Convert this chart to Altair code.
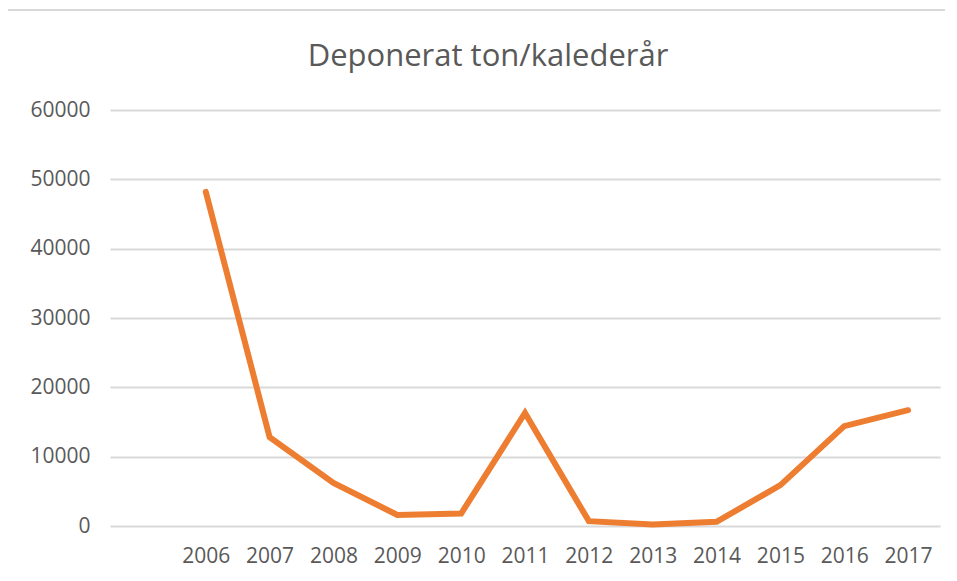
import altair as alt
import pandas as pd

years = [2006, 2007, 2008, 2009, 2010, 2011, 2012, 2013, 2014, 2015, 2016, 2017]
tons = [48200, 12800, 6200, 1600, 1800, 16300, 700, 200, 600, 5900, 14400, 16700]
y_ticks = [0, 10000, 20000, 30000, 40000, 50000, 60000]
title_text = "Deponerat ton/kalederår"

df = pd.DataFrame({"year": years, "ton": tons})

TEXT = "#595959"
GRID = "#D9D9D9"
FONT = "Open Sans"

line = alt.Chart(df).mark_line(color="#ED7D31", strokeWidth=6, strokeJoin="miter", strokeCap="round").encode(
    x=alt.X("year:Q",
            scale=alt.Scale(domain=[years[0] - 1.5, years[-1] + 0.5], zero=False, nice=False),
            axis=alt.Axis(values=years, format="d", title=None, grid=False, domain=False, ticks=False,
                          labelFontSize=21, labelColor=TEXT, labelFont=FONT, labelPadding=19)),
    y=alt.Y("ton:Q",
            scale=alt.Scale(domain=[0, 60000], nice=False),
            axis=alt.Axis(values=y_ticks, format="d", title=None, domain=False, ticks=False,
                          gridColor=GRID, gridWidth=2,
                          labelFontSize=21, labelColor=TEXT, labelFont=FONT, labelPadding=20)),
)

deco = pd.DataFrame({"title": [title_text]})
border_left = alt.Chart(deco).mark_rule(color=GRID, strokeWidth=2).encode(
    x=alt.value(-103), y=alt.value(-100), y2=alt.value(600))
border_top = alt.Chart(deco).mark_rule(color=GRID, strokeWidth=2).encode(
    x=alt.value(-103), x2=alt.value(900), y=alt.value(-100))
title = alt.Chart(deco).mark_text(fontSize=31, font=FONT, color=TEXT, align="center",
                                  baseline="alphabetic").encode(
    text="title:N", x=alt.value(378), y=alt.value(-44))

chart = alt.layer(border_left, border_top, title, line).properties(
    width=830,
    height=416,
    autosize=alt.AutoSizeParams(type="none"),
    padding={"left": 102, "top": 102, "right": 5, "bottom": 45},
).configure_view(stroke=None)

chart.save("out.html", embed_options={"renderer": "svg", "actions": False})
